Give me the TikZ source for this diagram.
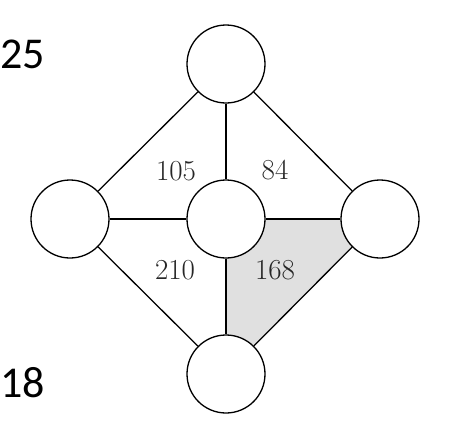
\documentclass[tikz,border=0pt]{standalone}
\usepackage{fontspec}
\newfontfamily\sidefont{Carlito}
\usetikzlibrary{backgrounds}

\begin{document}
\begin{tikzpicture}[
  x=1pt,y=-1pt,
  vertex/.style={circle,draw,fill=white,minimum size=78pt,inner sep=0pt,line width=1.3pt},
  edge/.style={line width=1.3pt},
  weight/.style={font=\fontsize{29}{34}\selectfont,text=black!85,inner sep=0pt},
  side/.style={font=\sidefont\fontsize{44}{50}\selectfont,inner sep=0pt}
  ]
  \useasboundingbox (0,0) rectangle (456,440);
  \node[vertex] (top) at (226,64) {};
  \node[vertex] (left) at (70,219) {};
  \node[vertex] (mid) at (226,219) {};
  \node[vertex] (right) at (380,219) {};
  \node[vertex] (bot) at (226,374) {};
  \begin{scope}[on background layer]
    \fill[black!12] (mid.center) -- (right.center) -- (bot.center) -- cycle;
  \end{scope}
  \draw[edge] (top) -- (left);
  \draw[edge] (top) -- (mid);
  \draw[edge] (top) -- (right);
  \draw[edge] (left) -- (mid);
  \draw[edge] (mid) -- (right);
  \draw[edge] (left) -- (bot);
  \draw[edge] (mid) -- (bot);
  \draw[edge] (right) -- (bot);
  \node[weight] (w105) at (176,171) {105};
  \node[weight] (w84) at (275,170) {84};
  \node[weight] (w210) at (175,270) {210};
  \node[weight] (w168) at (275,270) {168};
  \node[side,anchor=base west] (n25) at (0,68) {25};
  \node[side,anchor=base west] (n18) at (0,397) {18};
\end{tikzpicture}
\end{document}
